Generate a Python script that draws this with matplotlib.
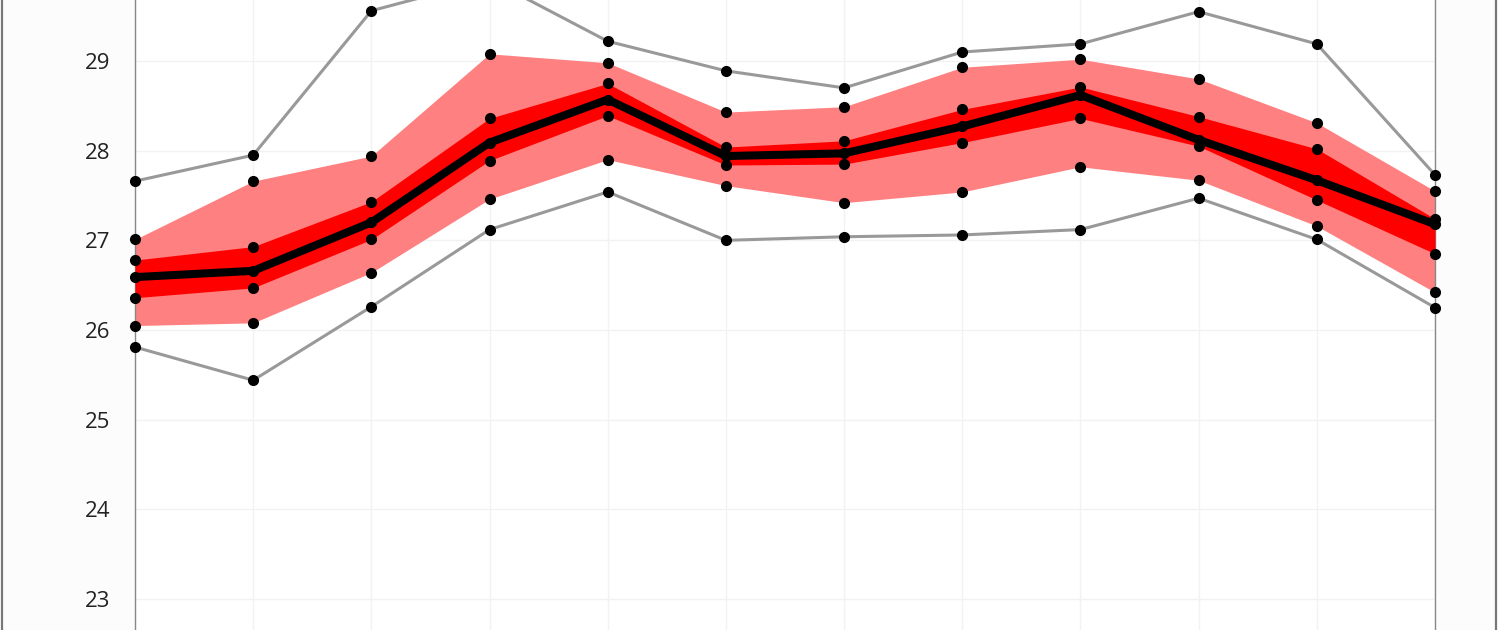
import matplotlib.pyplot as plt
from matplotlib.patches import Rectangle

# one value per month-ish position along the x axis
x = list(range(12))

y_max = [27.66, 27.95, 29.56, 29.91, 29.22, 28.89, 28.70, 29.10, 29.19, 29.55, 29.19, 27.73]
y_p90 = [27.01, 27.66, 27.94, 29.08, 28.98, 28.43, 28.49, 28.93, 29.02, 28.80, 28.31, 27.55]
y_p75 = [26.78, 26.93, 27.43, 28.36, 28.75, 28.04, 28.11, 28.46, 28.71, 28.38, 28.02, 27.24]
y_med = [26.59, 26.66, 27.20, 28.09, 28.57, 27.94, 27.97, 28.27, 28.62, 28.12, 27.67, 27.18]
y_p25 = [26.36, 26.47, 27.01, 27.89, 28.39, 27.84, 27.85, 28.09, 28.36, 28.05, 27.45, 26.85]
y_p10 = [26.05, 26.08, 26.64, 27.46, 27.90, 27.61, 27.42, 27.54, 27.82, 27.67, 27.16, 26.42]
y_min = [25.81, 25.44, 26.26, 27.12, 27.54, 27.00, 27.04, 27.06, 27.12, 27.47, 27.01, 26.25]

y_ticks = [23, 24, 25, 26, 27, 28, 29]

fig = plt.figure(figsize=(15, 6.3), dpi=100)
fig.patch.set_facecolor('white')

# outer frame of the picture
fig.add_artist(Rectangle((2/1500, -0.01), 1494/1500, 1.02, transform=fig.transFigure,
                         facecolor='#fcfcfc', edgecolor='#777777', linewidth=1.6, zorder=0))

ax = fig.add_axes([135/1500, 0, 1300/1500, 1])
ax.set_facecolor('white')

# bands
ax.fill_between(x, y_p10, y_p90, color='#ff8080', linewidth=0, zorder=2)
ax.fill_between(x, y_p25, y_p75, color='#ff0000', linewidth=0, zorder=3)

# extremes
ax.plot(x, y_max, color='#999999', lw=2.2, zorder=4)
ax.plot(x, y_min, color='#999999', lw=2.2, zorder=4)

# median
ax.plot(x, y_med, color='black', lw=5.8, solid_joinstyle='miter', zorder=5)

# dots on every series
for s in [y_max, y_p90, y_p75, y_med, y_p25, y_p10, y_min]:
    ax.plot(x, s, linestyle='none', marker='o', ms=7, color='black', zorder=6, clip_on=False)

ax.set_xlim(0, 11)
ax.set_ylim(22.655, 29.68)
ax.set_yticks(y_ticks)
ax.set_xticks(x)
ax.set_xticklabels([])
ax.tick_params(axis='both', length=0)
ax.tick_params(axis='y', pad=18, labelsize=16, labelcolor='#222222')
for lab in ax.get_yticklabels():
    lab.set_fontfamily('Open Sans')

ax.grid(True, color='#f2f2f2', lw=1, zorder=1)
ax.set_axisbelow(True)
for side in ['top', 'bottom']:
    ax.spines[side].set_visible(False)
for side in ['left', 'right']:
    ax.spines[side].set_color('#888888')
    ax.spines[side].set_linewidth(1)

plt.savefig('out.png', dpi=100, facecolor=fig.get_facecolor())
